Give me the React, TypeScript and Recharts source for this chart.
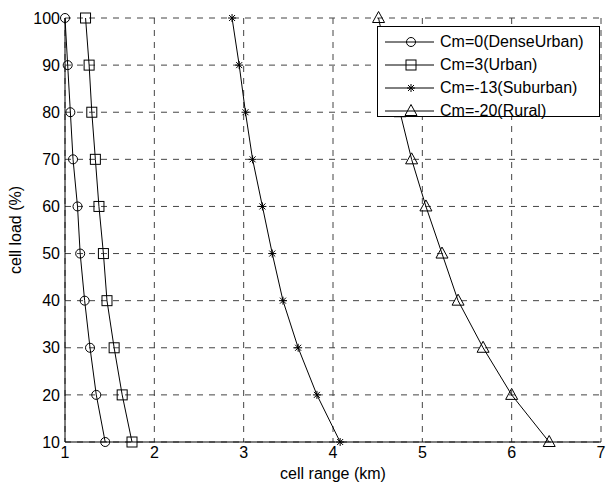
import { LineChart, Line, XAxis, YAxis, CartesianGrid } from "recharts";

const loads = [100, 90, 80, 70, 60, 50, 40, 30, 20, 10];
const denseUrban = [1.0, 1.03, 1.06, 1.09, 1.14, 1.17, 1.22, 1.28, 1.35, 1.45];
const urban = [1.23, 1.27, 1.3, 1.34, 1.38, 1.43, 1.47, 1.55, 1.64, 1.75];
const suburban = [2.87, 2.95, 3.02, 3.1, 3.21, 3.32, 3.44, 3.61, 3.82, 4.08];
const rural = [4.51, 4.62, 4.75, 4.88, 5.04, 5.22, 5.4, 5.68, 6.0, 6.42];

const xTicks = [1, 2, 3, 4, 5, 6, 7];
const yTicks = [10, 20, 30, 40, 50, 60, 70, 80, 90, 100];

type Shape = "circle" | "square" | "star" | "triangle";

const series: { name: string; values: number[]; shape: Shape }[] = [
  { name: "Cm=0(DenseUrban)", values: denseUrban, shape: "circle" },
  { name: "Cm=3(Urban)", values: urban, shape: "square" },
  { name: "Cm=-13(Suburban)", values: suburban, shape: "star" },
  { name: "Cm=-20(Rural)", values: rural, shape: "triangle" },
];

const FONT = "'Liberation Sans', Arial, sans-serif";

function Marker({ cx, cy, shape }: { cx: number; cy: number; shape: Shape }) {
  const s = { stroke: "#000", strokeWidth: 1, fill: "none" };
  if (shape === "circle") return <circle cx={cx} cy={cy} r={4.5} {...s} />;
  if (shape === "square") return <rect x={cx - 5} y={cy - 5} width={10} height={10} {...s} />;
  if (shape === "triangle")
    return <polygon points={`${cx},${cy - 6.5} ${cx - 6},${cy + 4.5} ${cx + 6},${cy + 4.5}`} {...s} />;
  return (
    <path
      d={`M${cx - 4},${cy}H${cx + 4}M${cx},${cy - 4}V${cy + 4}M${cx - 3},${cy - 3}L${cx + 3},${cy + 3}M${cx - 3},${cy + 3}L${cx + 3},${cy - 3}`}
      {...s}
    />
  );
}

// legend sits over the plot's top-right corner, like the MATLAB one
function LegendBox() {
  return (
    <div
      style={{
        position: "absolute",
        left: 377,
        top: 26,
        width: 223,
        height: 91,
        border: "1px solid #000",
        background: "#fff",
        boxSizing: "border-box",
        paddingTop: 3,
        fontFamily: FONT,
        fontSize: 16,
      }}
    >
      {series.map(s => (
        <div key={s.name} style={{ display: "flex", alignItems: "center", height: 23 }}>
          <svg width={62} height={20} style={{ flex: "none" }}>
            <line x1={7} x2={56} y1={10} y2={10} stroke="#000" />
            <Marker cx={33} cy={10} shape={s.shape} />
          </svg>
          <span style={{ color: "#000" }}>{s.name}</span>
        </div>
      ))}
    </div>
  );
}

export default function App() {
  return (
    <div style={{ position: "absolute", left: 0, top: 0, width: 606, height: 484, background: "#fff" }}>
      <LineChart width={606} height={484} margin={{ top: 18, right: 5, bottom: 0, left: 0 }}>
        <CartesianGrid stroke="#444" strokeDasharray="6 6" />
        <XAxis
          type="number"
          dataKey="range"
          domain={[1, 7]}
          ticks={xTicks}
          height={42}
          stroke="#000"
          tickLine={false}
          tickSize={0}
          tickMargin={5}
          tick={{ fill: "#000", fontSize: 16, fontFamily: FONT }}
          label={{ value: "cell range (km)", position: "insideBottom", offset: 5, fill: "#000", fontSize: 16, fontFamily: FONT }}
        />
        <XAxis xAxisId="top" orientation="top" type="number" domain={[1, 7]} height={0} tick={false} tickLine={false} stroke="#000" />
        <YAxis
          type="number"
          dataKey="load"
          domain={[10, 100]}
          ticks={yTicks}
          width={65}
          stroke="#000"
          tickLine={false}
          tickSize={0}
          tickMargin={5}
          tick={{ fill: "#000", fontSize: 16, fontFamily: FONT }}
          label={{ value: "cell load (%)", angle: -90, position: "insideLeft", offset: 15, fill: "#000", fontSize: 16, fontFamily: FONT, style: { textAnchor: "middle" } }}
        />
        <YAxis yAxisId="right" orientation="right" type="number" domain={[10, 100]} width={0} tick={false} tickLine={false} stroke="#000" />
        {series.map(s => (
          <Line
            key={s.name}
            name={s.name}
            data={s.values.map((v, i) => ({ range: v, load: loads[i] }))}
            dataKey="load"
            type="linear"
            stroke="#000"
            strokeWidth={1}
            isAnimationActive={false}
            dot={(p: any) => <Marker key={`${s.name}-${p.index}`} cx={p.cx} cy={p.cy} shape={s.shape} />}
            activeDot={false}
          />
        ))}
      </LineChart>
      <LegendBox />
    </div>
  );
}
